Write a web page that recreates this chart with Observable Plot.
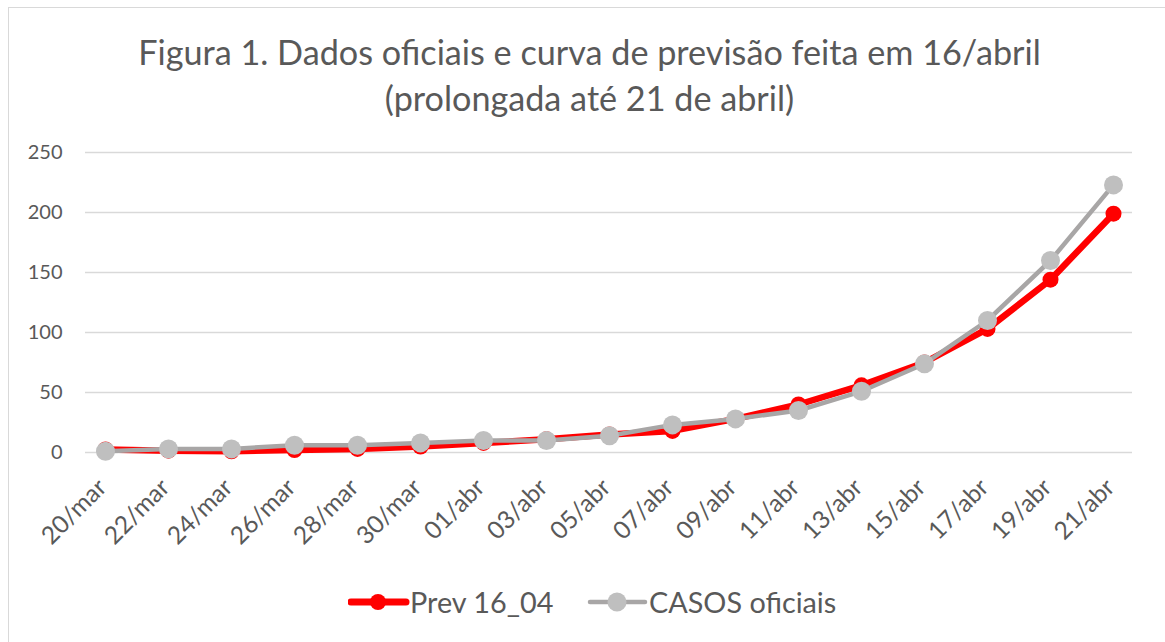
<!DOCTYPE html>
<html><head><meta charset="utf-8">
<script src="https://cdn.jsdelivr.net/npm/d3@7"></script>
<script src="https://cdn.jsdelivr.net/npm/@observablehq/plot@0.6"></script>
<style>
body{margin:0;background:#fff;}
#wrap{position:relative;width:1165px;height:642px;overflow:hidden;font-family:Lato,"Noto Sans",sans-serif;color:#595959;background:#fff;}
#frame{position:absolute;left:8px;top:7px;width:1300px;height:800px;border:1.5px solid #d9d9d9;box-sizing:border-box;}
#title{position:absolute;left:0;width:1179px;top:29px;text-align:center;font-size:34.2px;line-height:46px;}
#chart{position:absolute;left:0;top:130px;}
#legend{position:absolute;top:582px;left:0;width:1165px;height:40px;}
.item{position:absolute;top:0;height:40px;display:flex;align-items:center;font-size:28.8px;white-space:nowrap;}
.item svg{display:block;}
</style>
</head><body>
<div id="wrap">
  <div id="frame"></div>
  <div id="title">Figura 1. Dados oficiais e curva de previsão feita em 16/abril<br>(prolongada até 21 de abril)</div>
  <div id="chart"></div>
  <div id="legend"></div>
</div>
<script>
const dates = ["20/mar","22/mar","24/mar","26/mar","28/mar","30/mar","01/abr","03/abr","05/abr","07/abr","09/abr","11/abr","13/abr","15/abr","17/abr","19/abr","21/abr"];
const prev = [2.5, 1.5, 1, 2, 3, 5, 8, 11, 15, 18, 28, 40, 56, 75, 103, 144, 199];
const casos = [1, 3, 3, 6, 6, 8, 10, 10, 14, 23, 28, 35, 51, 74, 110, 160, 223];
const yTicks = [0, 50, 100, 150, 200, 250];
const seriesNames = ["Prev 16_04", "CASOS oficiais"];

const redLine = "#ff0000", redDot = "#ff0000";
const grayLine = "#a8a6a6", grayDot = "#bfbfbf";

const rowsPrev = dates.map((d, i) => ({date: d, value: prev[i]}));
const rowsCasos = dates.map((d, i) => ({date: d, value: casos[i]}));

const chart = Plot.plot({
  width: 1165,
  height: 440,
  marginTop: 22,
  marginBottom: 118,
  marginLeft: 85,
  marginRight: 33,
  style: {fontFamily: "Lato, 'Noto Sans', sans-serif", color: "#595959", background: "transparent"},
  x: {type: "point", domain: dates, padding: 0.25, axis: null},
  y: {domain: [0, 250], axis: null},
  marks: [
    Plot.ruleY(yTicks, {stroke: "#d9d9d9", strokeWidth: 1.5}),
    Plot.axisY(yTicks, {tickSize: 0, tickPadding: 23, fontSize: 20, fill: "#595959", label: null}),
    Plot.text(dates, {x: d => d, y: () => 0, text: d => d, rotate: -45, textAnchor: "end", lineAnchor: "middle", dy: 31, dx: -3, fontSize: 24.5, fill: "#595959"}),
    Plot.line(rowsPrev, {x: "date", y: "value", stroke: redLine, strokeWidth: 6.5, strokeLinejoin: "round", strokeLinecap: "round"}),
    Plot.dot(rowsPrev, {x: "date", y: "value", r: 8, fill: redDot, stroke: "none"}),
    Plot.line(rowsCasos, {x: "date", y: "value", stroke: grayLine, strokeWidth: 4.5, strokeLinejoin: "round", strokeLinecap: "round"}),
    Plot.dot(rowsCasos, {x: "date", y: "value", r: 9.5, fill: grayDot, stroke: "none"})
  ]
});
document.getElementById("chart").appendChild(chart);

// legend
const legend = d3.select("#legend");
const items = [
  {name: seriesNames[0], left: 348, line: redLine, dot: redDot, sw: 7, r: 8},
  {name: seriesNames[1], left: 587, line: grayLine, dot: grayDot, sw: 4.5, r: 9.5}
];
for (const it of items) {
  const div = legend.append("div").attr("class", "item").style("left", it.left + "px");
  const s = div.append("svg").attr("width", 62).attr("height", 40);
  s.append("line").attr("x1", 3).attr("x2", 58).attr("y1", 20).attr("y2", 20)
    .attr("stroke", it.line).attr("stroke-width", it.sw).attr("stroke-linecap", "round");
  s.append("circle").attr("cx", 30).attr("cy", 20).attr("r", it.r).attr("fill", it.dot);
  div.append("span").text(it.name);
}
</script>
</body></html>
